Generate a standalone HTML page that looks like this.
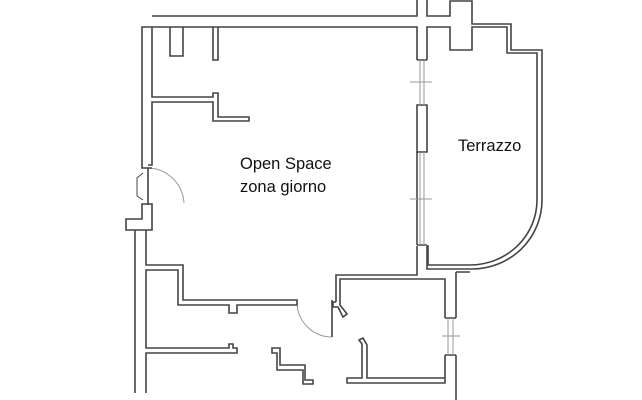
<!DOCTYPE html>
<html><head><style>
html,body{margin:0;padding:0;background:#fff;width:642px;height:400px;overflow:hidden}
svg{display:block}
text{font-family:"Liberation Sans",sans-serif;font-size:16.5px;fill:#111}
</style></head><body>
<svg width="642" height="400" viewBox="0 0 642 400">
<g fill="none" stroke="#444" stroke-width="1.6" stroke-linejoin="miter">
<path d="M152 16 H417 V0"/>
<path d="M427 0 V16 H450 V1 H472 V24 H511 V50 H542 V200 A70 69 0 0 1 472 269 H427 V246"/>
<path d="M428 245 V265 H470 A67 65 0 0 0 537 200 V53 H507 V27 H472 V50 H450 V27 H427 V60"/>
<path d="M142 165 V27 H417 V60"/>
<path d="M152 27 V97 H213 V93 H218 V117 H249 V121 H213 V102 H152 V165 H148"/>
<path d="M170 27 V56 H183 V27"/>
<path d="M213 27 V60 H218 V27"/>
<path d="M417 60 H427 M417 105 H427 V152 H417 Z M417 245 H427"/>
<path d="M417 152 V245"/>
</g>
<g stroke="#999" stroke-width="1" fill="none">
<path d="M420 60 V105 M424 60 V105 M420 152 V245 M424 152 V245"/>
<path d="M410 82 H432 M410 199 H432"/>
<path d="M442 336 H460"/>
<path d="M148 168 A37 37 0 0 1 184 203 M297 303 A35 35 0 0 0 332 337"/>
</g>
<g fill="none" stroke="#444" stroke-width="1.6">
<path d="M148 168 V205 M142 165 V168 H152"/>
<path d="M143 173 L137 178 V196 L143 200" stroke-width="1"/>
<path d="M142 204 H152 V230 H126 V219 H142 Z"/>
<path d="M135 230 V393"/>
<path d="M146 230 V265 H183 V300 H297 V305 H237 V313 H229 V305 H178 V270 H146 V348 H229 V344 H233 V348 H237 V353 H146 V393"/>
<path d="M272 348 H280 V365 H305 V380 H313 V384 H303 V370 H277 V353 H272 Z"/>
<path d="M332 337 V300"/>
<path d="M336 302 V275 H417 V246"/>
<path d="M336 302 H333 V307 H338 L343 317 L347 314 L340 305 V279 H445 V318"/>
<path d="M456 272 H470 M456 272 V318"/>
<path d="M445 318 H456 M445 355 H456"/>
<path d="M445 355 V383 H347 V378 H362 V344 L359 340 L363 338 L367 345 V378 H445"/>
<path d="M456 355 V400"/>
</g>
<g stroke="#999" stroke-width="1"><path d="M448 318 V355 M453 318 V355"/></g>
<text x="240" y="169">Open Space</text>
<text x="240" y="192">zona giorno</text>
<text x="458" y="151">Terrazzo</text>
</svg>
</body></html>
